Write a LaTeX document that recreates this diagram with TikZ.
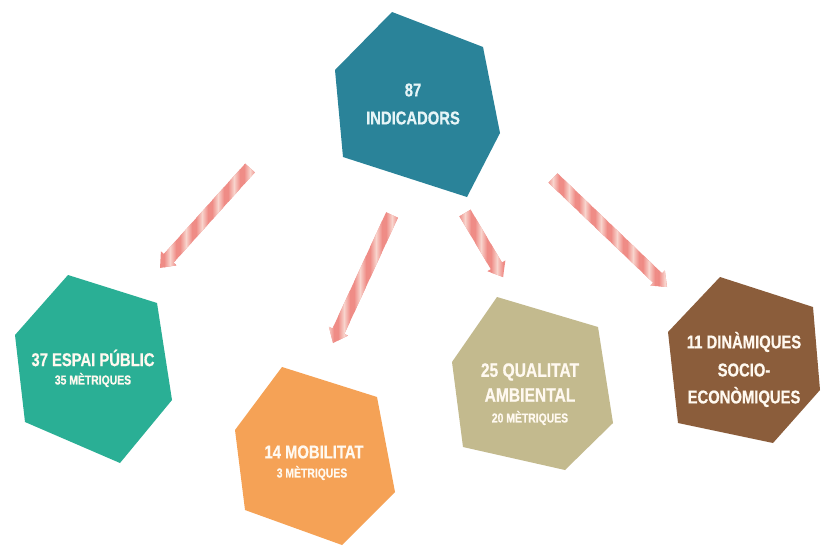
\documentclass[tikz,border=0pt]{standalone}
\usepackage{fontspec}
\newfontfamily\hexfont{Liberation Sans}[FakeStretch=0.8, BoldFeatures={FakeBold=0.6}]
\usetikzlibrary{calc}
\definecolor{hexteal}{HTML}{2A8399}
\definecolor{hexgreen}{HTML}{2AAF95}
\definecolor{hexorange}{HTML}{F5A256}
\definecolor{hexbeige}{HTML}{C3BA8E}
\definecolor{hexbrown}{HTML}{8B5D3B}
\definecolor{arrowpink}{HTML}{EF8C86}
\definecolor{arrowlight}{HTML}{F8D4CD}
\definecolor{textteal}{HTML}{E6F5F7}
\definecolor{textwarm}{HTML}{FFF9F0}
\tikzset{
  hexbig/.style={text=textwarm, inner sep=0pt, font=\hexfont\bfseries\fontsize{18.5}{20}\selectfont},
  hexbeigebig/.style={text=textwarm, inner sep=0pt, font=\hexfont\bfseries\fontsize{19.5}{21}\selectfont},
  hexsmall/.style={text=textwarm, inner sep=0pt, font=\hexfont\bfseries\fontsize{13}{14}\selectfont},
}
\newcommand\fatarrow[2]{%
  \path let \p1=(#1), \p2=(#2), \n1={atan2(\y2-\y1,\x2-\x1)}, \n2={veclen(\x2-\x1,\y2-\y1)} in
    \pgfextra{\xdef\arrang{\n1}\xdef\arrlen{\n2}};
  \begin{scope}[shift={(#1)}, rotate=\arrang]
    \begin{scope}
      \clip (0,-6.5) -- ({\arrlen-13},-6.5) -- ({\arrlen-13},-10.5) -- ({\arrlen},0) -- ({\arrlen-13},10.5) -- ({\arrlen-13},6.5) -- (0,6.5) -- cycle;
      \begin{scope}[rotate=-\arrang]
        \fill[arrowpink] (-200,-200) rectangle (200,200);
        \foreach \s in {-200,-184,...,200} {
          \shade[left color=arrowpink, right color=arrowlight] (\s+2,-200) rectangle (\s+8,200);
          \shade[left color=arrowlight, right color=arrowpink] (\s+8,-200) rectangle (\s+14,200);
        }
      \end{scope}
    \end{scope}
  \end{scope}
}
\begin{document}
\begin{tikzpicture}[x=1pt,y=-1pt]
\useasboundingbox (0,0) rectangle (821,552);
\fill[white] (0,0) rectangle (821,552);

% hexagons
\fill[hexteal]   (392,12) -- (483,47) -- (500,133) -- (467,197) -- (343,157) -- (335,70) -- cycle;
\fill[hexgreen]  (68,275) -- (157,303) -- (172,400) -- (120,463) -- (25,422) -- (15,335) -- cycle;
\fill[hexorange] (282,367) -- (377,397) -- (395,492) -- (342,545) -- (245,510) -- (235,430) -- cycle;
\fill[hexbeige]  (497,297) -- (598,327) -- (613,423) -- (565,470) -- (463,447) -- (452,362) -- cycle;
\fill[hexbrown]  (720,277) -- (813,307) -- (820,390) -- (773,443) -- (678,423) -- (668,332) -- cycle;

% texts
\node[hexbig, text=textteal] (t87) at (413,90) {87};
\node[hexbig, text=textteal] (tind) at (413,118) {INDICADORS};

\node[hexbig] (tesp) at (93,358) {37 ESPAI PÚBLIC};
\node[hexsmall] (tespm) at (93,380) {35 MÈTRIQUES};

\node[hexbig] (tmob) at (314,452) {14 MOBILITAT};
\node[hexsmall] (tmobm) at (312,473) {3 MÈTRIQUES};

\node[hexbeigebig] (tqua) at (530,372) {25 QUALITAT};
\node[hexbeigebig] (tamb) at (530,395) {AMBIENTAL};
\node[hexsmall] (tquam) at (530,418) {20 MÈTRIQUES};

\node[hexbig] (tdin) at (744,342) {11 DINÀMIQUES};
\node[hexbig] (tsoc) at (744,370) {SOCIO-};
\node[hexbig] (teco) at (744,397) {ECONÒMIQUES};

% arrows
\coordinate (a1s) at (250,168); \coordinate (a1e) at (160,268);
\coordinate (a2s) at (392,215); \coordinate (a2e) at (333,343);
\coordinate (a3s) at (465,213); \coordinate (a3e) at (503,277);
\coordinate (a4s) at (553,178); \coordinate (a4e) at (667,287);
\fatarrow{a1s}{a1e}
\fatarrow{a2s}{a2e}
\fatarrow{a3s}{a3e}
\fatarrow{a4s}{a4e}
\end{tikzpicture}
\end{document}
